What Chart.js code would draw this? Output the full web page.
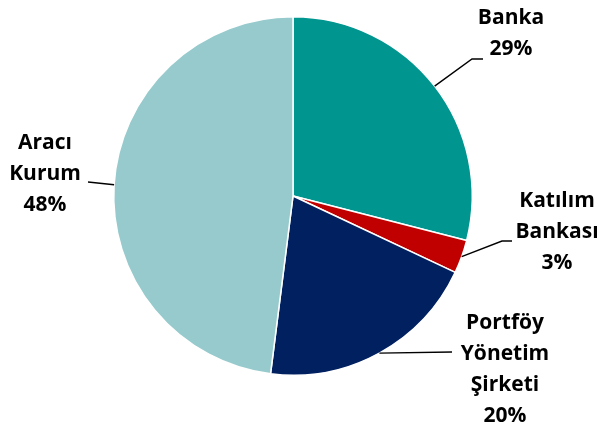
<!DOCTYPE html>
<html>
<head>
  <meta charset="UTF-8">
  <script src="https://cdn.jsdelivr.net/npm/chart.js"></script>
  <title>Pie</title>
  <style>
    html, body { margin: 0; padding: 0; background: #fff; }
    #wrap { width: 603px; height: 433px; position: relative; }
  </style>
</head>
<body>
  <div id="wrap"><canvas id="myChart" width="603" height="433"></canvas></div>
<script>
  // data
  var categories = ["Banka", "Katılım Bankası", "Portföy Yönetim Şirketi", "Aracı Kurum"];
  var shares = [29, 3, 20, 48];
  var labelLines = [["Banka", "29%"], ["Katılım", "Bankası", "3%"], ["Portföy", "Yönetim", "Şirketi", "20%"], ["Aracı", "Kurum", "48%"]];
  var colors = ["#00968F", "#C00000", "#002060", "#96CACC"];

  // label layout: text center x, first line y, elbow point, line end
  var labelPos = [
    { x: 511, y: 18, elbow: [472, 59], end: [483, 59] },
    { x: 557, y: 201, elbow: [502, 241], end: [512, 241] },
    { x: 505, y: 323, elbow: [452, 352], end: [452, 352] },
    { x: 45, y: 143, elbow: [88, 182], end: [88, 182] }
  ];

  var leaderLabels = {
    id: 'leaderLabels',
    afterDraw: function (chart) {
      var ctx = chart.ctx;
      var meta = chart.getDatasetMeta(0);
      ctx.save();
      for (var i = 0; i < meta.data.length; i++) {
        var arc = meta.data[i];
        var mid = (arc.startAngle + arc.endAngle) / 2;
        var px = arc.x + Math.cos(mid) * arc.outerRadius;
        var py = arc.y + Math.sin(mid) * arc.outerRadius;
        var p = labelPos[i];
        ctx.strokeStyle = "#000";
        ctx.lineWidth = 1.4;
        ctx.beginPath();
        ctx.moveTo(px, py);
        ctx.lineTo(p.elbow[0], p.elbow[1]);
        ctx.lineTo(p.end[0], p.end[1]);
        ctx.stroke();

        ctx.fillStyle = "#000";
        ctx.font = "bold 21px 'Open Sans'";
        ctx.textAlign = "center";
        ctx.textBaseline = "middle";
        var lines = labelLines[i];
        for (var j = 0; j < lines.length; j++) {
          ctx.fillText(lines[j], p.x, p.y + j * 31);
        }
      }
      ctx.restore();
    }
  };

  new Chart(document.getElementById('myChart'), {
    type: 'pie',
    data: {
      labels: categories,
      datasets: [{
        data: shares,
        backgroundColor: colors,
        borderColor: "#fff",
        borderWidth: 1.5
      }]
    },
    options: {
      responsive: false,
      animation: false,
      layout: { padding: { left: 113, right: 130, top: 16, bottom: 57 } },
      plugins: {
        legend: { display: false },
        tooltip: { enabled: false }
      }
    },
    plugins: [leaderLabels]
  });
</script>
</body>
</html>
